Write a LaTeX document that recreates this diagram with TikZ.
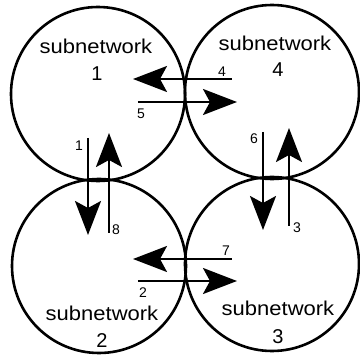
\documentclass[tikz,border=0pt]{standalone}
\usepackage{fontspec}
\setmainfont{Liberation Sans}
\usetikzlibrary{arrows.meta}
\begin{document}
\begin{tikzpicture}[x=1pt,y=-1pt,
  subnet/.style={circle,draw=black,line width=2.6pt,minimum size=174pt,inner sep=0pt},
  bigtxt/.style={anchor=base,inner sep=0pt,font=\fontsize{20}{24}\selectfont},
  smalltxt/.style={anchor=base,inner sep=0pt,font=\fontsize{14}{16}\selectfont},
  flow/.style={line width=2.2pt,-{Stealth[length=34pt,width=26pt,inset=7pt]}}]
\useasboundingbox (0,0) rectangle (360,356);
% subnetworks
\node[subnet] (c1) at (98,94) {};
\node[subnet] (c4) at (272,92) {};
\node[subnet] (c2) at (99,266) {};
\node[subnet] (c3) at (272,264) {};
% titles
\node[bigtxt] (t1a) at (96,53) {\scalebox{1.1}[1]{subnetwork}};
\node[bigtxt] (t1b) at (97,81) {1};
\node[bigtxt] (t4a) at (275,50) {\scalebox{1.1}[1]{subnetwork}};
\node[bigtxt] (t4b) at (278,77) {4};
\node[bigtxt] (t2a) at (102,320) {\scalebox{1.1}[1]{subnetwork}};
\node[bigtxt] (t2b) at (102,348) {2};
\node[bigtxt] (t3a) at (278,316) {\scalebox{1.1}[1]{subnetwork}};
\node[bigtxt] (t3b) at (278,344) {3};
% connector end points
\coordinate (s4) at (232,79);  \coordinate (e4) at (133,79);
\coordinate (s5) at (138,102); \coordinate (e5) at (237,102);
\coordinate (s1) at (88,138);  \coordinate (e1) at (88,235);
\coordinate (s8) at (109,233); \coordinate (e8) at (109,133);
\coordinate (s6) at (263,132); \coordinate (e6) at (263,230);
\coordinate (s3) at (289,226); \coordinate (e3) at (289,128);
\coordinate (s7) at (232,259); \coordinate (e7) at (133,259);
\coordinate (s2) at (138,281); \coordinate (e2) at (237,281);
\draw[flow] (s4) -- (e4);
\draw[flow] (s5) -- (e5);
\draw[flow] (s1) -- (e1);
\draw[flow] (s8) -- (e8);
\draw[flow] (s6) -- (e6);
\draw[flow] (s3) -- (e3);
\draw[flow] (s7) -- (e7);
\draw[flow] (s2) -- (e2);
% labels
\node[smalltxt] (l4) at (222,77) {4};
\node[smalltxt] (l5) at (141,118) {5};
\node[smalltxt] (l1) at (79,150) {1};
\node[smalltxt] (l8) at (116,235) {8};
\node[smalltxt] (l6) at (254,143) {6};
\node[smalltxt] (l3) at (297,233) {3};
\node[smalltxt] (l7) at (226,255) {7};
\node[smalltxt] (l2) at (143,298) {2};
\end{tikzpicture}
\end{document}
